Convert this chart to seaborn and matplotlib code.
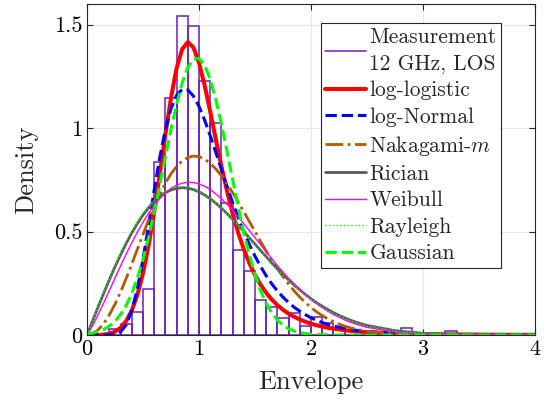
import numpy as np
import matplotlib
matplotlib.use('Agg')
import matplotlib.pyplot as plt
import seaborn as sns
from matplotlib.lines import Line2D

# ---------------- data ----------------
bin_centers = [0.05, 0.15, 0.25, 0.35, 0.45, 0.55, 0.65, 0.75, 0.85, 0.95,
               1.05, 1.15, 1.25, 1.35, 1.45, 1.55, 1.65, 1.75, 1.85, 1.95,
               2.05, 2.15, 2.25, 2.35, 2.45, 2.55, 2.65, 2.75, 2.85, 2.95,
               3.05, 3.15, 3.25, 3.35, 3.45, 3.55, 3.65, 3.75, 3.85, 3.95]
measurement = [0.0, 0.003, 0.029, 0.053, 0.11, 0.22, 0.836, 1.148, 1.54, 1.495,
               1.229, 1.024, 0.64, 0.41, 0.31, 0.168, 0.134, 0.081, 0.108, 0.042,
               0.086, 0.057, 0.03, 0.02, 0.015, 0.01, 0.008, 0.005, 0.033, 0.004,
               0.003, 0.003, 0.02, 0.002, 0.002, 0.002, 0.002, 0.002, 0.002, 0.002]

envelope = [0, 0.05, 0.1, 0.15, 0.2, 0.25, 0.3, 0.35, 0.4, 0.45,
            0.5, 0.55, 0.6, 0.65, 0.7, 0.75, 0.8, 0.85, 0.9, 0.95,
            1.0, 1.05, 1.1, 1.15, 1.2, 1.25, 1.3, 1.35, 1.4, 1.45,
            1.5, 1.55, 1.6, 1.65, 1.7, 1.75, 1.8, 1.85, 1.9, 1.95,
            2.0, 2.05, 2.1, 2.15, 2.2, 2.25, 2.3, 2.35, 2.4, 2.45,
            2.5, 2.75, 3.0, 3.25, 3.5, 3.75, 4.0]
log_logistic = [0, 0, 0, 0.002, 0.006, 0.016, 0.035, 0.068, 0.119, 0.194,
                0.298, 0.433, 0.595, 0.779, 0.969, 1.146, 1.290, 1.382, 1.416, 1.390,
                1.316, 1.208, 1.080, 0.946, 0.816, 0.696, 0.588, 0.494, 0.414, 0.347,
                0.290, 0.243, 0.204, 0.171, 0.144, 0.122, 0.103, 0.088, 0.075, 0.064,
                0.055, 0.047, 0.041, 0.035, 0.031, 0.027, 0.023, 0.020, 0.018, 0.016,
                0.014, 0.008, 0.004, 0.003, 0.002, 0.001, 0.001]
log_normal = [0, 0, 0, 0, 0, 0.003, 0.015, 0.049, 0.117, 0.225,
              0.367, 0.531, 0.701, 0.859, 0.993, 1.094, 1.159, 1.188, 1.185, 1.155,
              1.105, 1.039, 0.964, 0.883, 0.800, 0.719, 0.641, 0.567, 0.499, 0.437,
              0.381, 0.331, 0.286, 0.247, 0.213, 0.183, 0.157, 0.134, 0.115, 0.098,
              0.083, 0.071, 0.060, 0.051, 0.044, 0.037, 0.032, 0.027, 0.023, 0.019,
              0.017, 0.007, 0.003, 0.002, 0.001, 0, 0]
nakagami = [0, 0.006, 0.025, 0.056, 0.098, 0.149, 0.208, 0.274, 0.343, 0.415,
            0.486, 0.556, 0.621, 0.681, 0.734, 0.779, 0.815, 0.841, 0.858, 0.865,
            0.862, 0.850, 0.830, 0.803, 0.770, 0.731, 0.689, 0.643, 0.596, 0.548,
            0.500, 0.452, 0.406, 0.362, 0.320, 0.282, 0.246, 0.213, 0.183, 0.157,
            0.133, 0.112, 0.094, 0.078, 0.065, 0.053, 0.043, 0.035, 0.028, 0.023,
            0.018, 0.005, 0.001, 0, 0, 0, 0]
rician = [0, 0.069, 0.137, 0.203, 0.268, 0.330, 0.388, 0.443, 0.494, 0.539,
          0.580, 0.615, 0.645, 0.669, 0.688, 0.701, 0.709, 0.712, 0.710, 0.703,
          0.692, 0.677, 0.659, 0.637, 0.613, 0.587, 0.559, 0.530, 0.500, 0.469,
          0.439, 0.408, 0.378, 0.348, 0.320, 0.292, 0.266, 0.241, 0.218, 0.196,
          0.175, 0.156, 0.139, 0.123, 0.108, 0.095, 0.083, 0.072, 0.062, 0.054,
          0.046, 0.021, 0.008, 0.003, 0.001, 0, 0]
weibull = [0, 0.045, 0.099, 0.156, 0.216, 0.275, 0.334, 0.392, 0.446, 0.498,
           0.545, 0.589, 0.627, 0.660, 0.687, 0.709, 0.724, 0.734, 0.738, 0.737,
           0.730, 0.719, 0.703, 0.682, 0.659, 0.632, 0.603, 0.571, 0.538, 0.504,
           0.470, 0.436, 0.401, 0.368, 0.335, 0.304, 0.274, 0.246, 0.220, 0.195,
           0.172, 0.151, 0.132, 0.115, 0.099, 0.086, 0.073, 0.062, 0.053, 0.045,
           0.037, 0.014, 0.005, 0.001, 0, 0, 0]
rayleigh = [0, 0.070, 0.139, 0.207, 0.272, 0.335, 0.394, 0.450, 0.501, 0.547,
            0.588, 0.623, 0.653, 0.677, 0.696, 0.708, 0.716, 0.718, 0.715, 0.707,
            0.695, 0.679, 0.660, 0.638, 0.613, 0.586, 0.558, 0.528, 0.497, 0.466,
            0.435, 0.404, 0.373, 0.343, 0.315, 0.287, 0.261, 0.236, 0.212, 0.191,
            0.170, 0.151, 0.134, 0.118, 0.104, 0.091, 0.079, 0.069, 0.060, 0.051,
            0.044, 0.019, 0.008, 0.003, 0.001, 0, 0]
gaussian = [0.006, 0.010, 0.017, 0.027, 0.043, 0.066, 0.099, 0.143, 0.201, 0.275,
            0.365, 0.472, 0.593, 0.725, 0.861, 0.994, 1.116, 1.218, 1.293, 1.333,
            1.337, 1.304, 1.236, 1.138, 1.020, 0.888, 0.752, 0.619, 0.495, 0.385,
            0.291, 0.214, 0.153, 0.106, 0.072, 0.047, 0.030, 0.019, 0.011, 0.007,
            0.004, 0.002, 0.001, 0.001, 0, 0, 0, 0, 0, 0,
            0, 0, 0, 0, 0, 0, 0]

labels = ['Measurement\n12 GHz, LOS', 'log-logistic', 'log-Normal', 'Nakagami-$m$',
          'Rician', 'Weibull', 'Rayleigh', 'Gaussian']
x_ticks = [0, 1, 2, 3, 4]
y_ticks = [0, 0.5, 1, 1.5]
y_tick_labels = ['0', '0.5', '1', '1.5']

# ---------------- style ----------------
sns.set_style('white')
plt.rcParams['font.family'] = ['cmr10']
plt.rcParams['mathtext.fontset'] = 'cm'
plt.rcParams['axes.formatter.use_mathtext'] = True
plt.rcParams['axes.unicode_minus'] = False

fig = plt.figure(figsize=(5.51, 4.05), dpi=100)
ax = fig.add_axes([87 / 551, 1 - 335 / 405, 448 / 551, 331 / 405])

hist_color = '#6a1fbf'
sns.histplot(x=bin_centers, weights=measurement, bins=40, binrange=(0, 4), fill=False,
             color=hist_color, linewidth=1.1, ax=ax)

series = [
    (log_logistic, '#ff0000', '-', 2.9),
    (log_normal, '#0000ff', '--', 2.2),
    (nakagami, '#b35900', '-.', 2.0),
    (rician, '#5a5a5a', '-', 2.0),
    (weibull, '#ff00ff', '-', 1.0),
    (rayleigh, '#00ff00', ':', 1.0),
    (gaussian, '#00ff00', '--', 2.2),
]
handles = [Line2D([], [], color=hist_color, lw=1.1)]
for vals, c, ls, lw in series:
    sns.lineplot(x=envelope, y=vals, color=c, linestyle=ls, linewidth=lw, ax=ax)
    handles.append(Line2D([], [], color=c, ls=ls, lw=lw))

ax.set_xlim(0, 4)
ax.set_ylim(0, 1.6)
ax.set_xticks(x_ticks)
ax.set_yticks(y_ticks)
ax.set_yticklabels(y_tick_labels)
ax.grid(True, color='#e6e6e6', linewidth=0.8)
ax.set_axisbelow(True)
ax.tick_params(direction='in', top=True, right=True, bottom=True, left=True,
               length=4, width=0.8, colors='#262626', labelsize=16, labelcolor='black')
for s in ax.spines.values():
    s.set_color('#262626')
    s.set_linewidth(0.8)
ax.set_xlabel('Envelope', fontsize=19, labelpad=8)
ax.set_ylabel('Density', fontsize=19, labelpad=11)

leg = ax.legend(handles, labels, loc='upper left', bbox_to_anchor=(0.522, 0.942), borderaxespad=0,
                fontsize=15.5, labelspacing=0.32, handlelength=1.9, handletextpad=0.15,
                borderpad=0.2, fancybox=False, framealpha=1, edgecolor='#262626')
leg.get_frame().set_linewidth(0.8)
leg.get_texts()[0].set_linespacing(1.45)

fig.savefig('out.png', dpi=100)
